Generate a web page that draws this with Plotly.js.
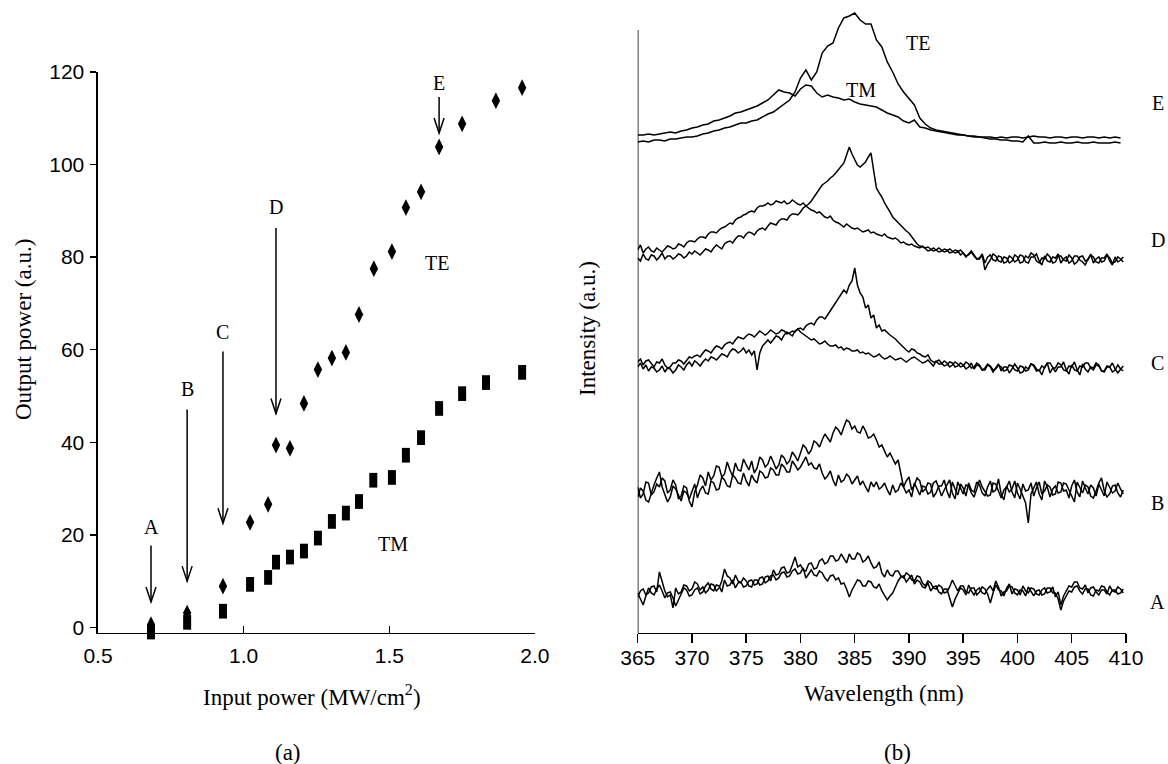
<!DOCTYPE html>
<html>
<head>
<meta charset="utf-8">
<script src="https://cdn.plot.ly/plotly-3.0.1.min.js"></script>
<style>html,body{margin:0;padding:0;background:#fff;}#chart{width:1168px;height:764px;}</style>
</head>
<body>
<div id="chart"></div>
<script>
// ---------- Panel (a): output power vs input power ----------
const inputTE = [0.682,0.806,0.929,1.022,1.084,1.111,1.159,1.207,1.255,1.303,1.351,1.396,1.447,1.509,1.557,1.609,1.671,1.750,1.866,1.956];
const outputTE = [0.6,3.1,8.9,22.7,26.6,39.4,38.7,48.4,55.7,58.2,59.4,67.6,77.5,81.2,90.7,94.1,103.8,108.8,113.8,116.6];
const inputTM = [0.682,0.806,0.929,1.022,1.084,1.111,1.159,1.207,1.255,1.303,1.351,1.396,1.445,1.509,1.557,1.609,1.671,1.750,1.832,1.956];
const outputTM = [-1.0,1.1,3.5,9.3,10.8,14.1,15.2,16.5,19.3,22.9,24.7,27.2,31.8,32.4,37.2,41.0,47.3,50.5,52.9,55.1];

// arrows marking the spectra of panel (b)
const arrowLabels = ['A','B','C','D','E'];
const arrowInput = [0.682,0.806,0.929,1.111,1.671];
const arrowTail = [17.7,47.1,59.6,86.3,114.6];
const arrowHead = [5.5,10.0,22.5,46.2,106.8];
const arrowLabelY = [21.8,51.6,63.9,90.9,117.6];

// ---------- Panel (b): spectra ----------
const wavelength = [
365,365.5,366,366.5,367,367.5,368,368.5,369,369.5,
370,370.5,371,371.5,372,372.5,373,373.5,374,374.5,
375,375.5,376,376.5,377,377.5,378,378.5,379,379.5,
380,380.5,381,381.5,382,382.5,383,383.5,384,384.5,
385,385.5,386,386.5,387,387.5,388,388.5,389,389.5,
390,390.5,391,391.5,392,392.5,393,393.5,394,394.5,
395,395.5,396,396.5,397,397.5,398,398.5,399,399.5,
400,400.5,401,401.5,402,402.5,403,403.5,404,404.5,
405,405.5,406,406.5,407,407.5,408,408.5,409,409.5];

const wavelengthFine = [
365,365.25,365.5,365.75,366,366.25,366.5,366.75,367,367.25,367.5,367.75,368,368.25,368.5,368.75,369,369.25,369.5,369.75,
370,370.25,370.5,370.75,371,371.25,371.5,371.75,372,372.25,372.5,372.75,373,373.25,373.5,373.75,374,374.25,374.5,374.75,
375,375.25,375.5,375.75,376,376.25,376.5,376.75,377,377.25,377.5,377.75,378,378.25,378.5,378.75,379,379.25,379.5,379.75,
380,380.25,380.5,380.75,381,381.25,381.5,381.75,382,382.25,382.5,382.75,383,383.25,383.5,383.75,384,384.25,384.5,384.75,
385,385.25,385.5,385.75,386,386.25,386.5,386.75,387,387.25,387.5,387.75,388,388.25,388.5,388.75,389,389.25,389.5,389.75,
390,390.25,390.5,390.75,391,391.25,391.5,391.75,392,392.25,392.5,392.75,393,393.25,393.5,393.75,394,394.25,394.5,394.75,
395,395.25,395.5,395.75,396,396.25,396.5,396.75,397,397.25,397.5,397.75,398,398.25,398.5,398.75,399,399.25,399.5,399.75,
400,400.25,400.5,400.75,401,401.25,401.5,401.75,402,402.25,402.5,402.75,403,403.25,403.5,403.75,404,404.25,404.5,404.75,
405,405.25,405.5,405.75,406,406.25,406.5,406.75,407,407.25,407.5,407.75,408,408.25,408.5,408.75,409,409.25,409.5,409.75];

// E: smoother, read on the 0.5 nm grid
const E_TE = [
491,492,491,493,493,492,494,494,495,496,
496,497,499,500,502,503,505,506,508,510,
510,512,513,516,519,521,525,529,533,541,
555,563,553,561,580,587,590,605,615,617,
620,613,609,609,593,586,571,561,549,541,
534,528,515,509,505,503,502,501,500,499,
498,497,496,496,495,494,494,493,493,492,
492,491,497,490,490,491,490,490,491,490,
490,491,490,490,491,490,490,490,491,490];
const E_TM = [
498,498,499,498,499,500,501,500,502,503,
505,506,508,509,512,513,515,517,520,521,
523,525,527,530,533,538,543,541,540,537,
544,548,547,540,536,538,536,535,533,534,
531,529,528,527,526,523,520,518,516,512,
510,513,506,505,503,502,501,500,499,498,
498,497,497,496,496,496,495,496,495,496,
496,495,496,497,496,496,495,496,496,495,
496,496,495,496,496,495,496,495,496,495];
// D, C, B, A: noisier, read on the 0.25 nm grid
const D_TE = [
375,372,379,374,373,378,377,373,376,380,374,377,377,374,376,379,378,375,377,381,
379,382,380,378,381,384,383,381,385,388,386,384,389,391,392,390,394,397,397,395,
399,401,400,398,402,404,405,403,407,410,409,408,412,414,414,413,417,419,419,418,
421,425,427,429,432,436,440,444,448,450,452,455,457,460,463,467,470,478,486,479,
473,468,466,469,471,476,480,462,445,440,436,430,426,421,416,413,410,407,405,402,
400,396,392,389,387,386,385,386,384,382,383,385,383,381,382,384,382,380,381,383,
380,377,378,381,377,374,374,378,363,369,373,379,377,372,371,376,375,370,372,378,
376,370,371,377,375,380,378,372,370,375,374,379,376,370,371,377,377,373,372,378,
375,369,371,376,377,372,373,379,370,374,376,371,372,378,375,370,371,376,374,371];
const D_TM = [
383,388,380,384,386,382,381,385,383,381,384,387,386,384,385,389,388,386,390,392,
392,391,394,396,396,395,399,401,401,400,403,405,406,408,410,409,413,415,416,418,
419,421,422,421,425,427,427,428,430,428,429,432,431,430,432,429,430,433,431,429,
428,430,427,425,423,422,420,421,418,416,415,417,413,411,410,408,406,409,407,405,
404,405,403,401,402,403,400,401,399,398,397,399,396,395,394,395,393,390,391,389,
388,389,387,386,385,387,384,382,383,385,383,381,382,384,383,380,381,383,382,378,
380,376,379,382,378,374,375,379,370,376,378,373,372,377,376,370,371,377,375,371,
373,378,377,371,370,376,376,379,372,368,377,372,371,376,375,379,370,374,376,370,
372,377,377,373,371,368,374,378,376,371,370,375,375,379,372,368,376,371,373,376];
const C_TE = [
266,270,264,268,262,266,265,261,263,267,261,265,264,260,263,268,266,263,268,271,
267,272,270,267,271,274,272,276,275,273,276,279,278,276,281,284,283,280,282,285,
280,283,278,282,263,280,287,290,293,290,294,297,296,293,298,301,299,297,302,304,
305,303,307,309,310,308,313,316,316,314,318,322,326,331,335,338,343,340,348,352,
365,348,340,336,325,328,315,318,305,308,302,303,300,298,296,294,291,288,285,283,
281,284,283,280,279,277,276,278,273,271,271,273,270,267,268,271,270,266,267,270,
268,264,266,270,264,268,267,263,263,268,266,261,265,269,262,266,266,260,264,269,
265,260,261,266,264,269,267,262,263,258,266,270,260,265,265,270,268,263,262,267,
266,271,263,258,269,264,261,266,265,270,268,262,262,267,266,261,263,268,264,262];
const C_TM = [
271,274,268,272,273,269,266,271,270,274,268,265,266,270,270,273,272,269,273,276,
275,277,278,276,280,283,282,280,284,287,286,284,288,290,291,289,293,296,295,294,
297,299,298,296,299,302,300,298,300,303,301,299,300,303,302,299,300,302,301,304,
301,299,297,295,293,294,291,289,290,292,289,287,287,288,285,286,283,285,284,282,
282,283,280,281,279,280,278,276,277,279,276,274,275,277,275,273,274,275,273,271,
273,275,276,274,272,270,271,273,270,267,272,269,269,272,270,266,268,271,269,266,
267,271,269,265,266,270,268,263,265,269,267,263,264,268,266,262,263,268,267,263,
262,267,266,262,263,269,268,264,262,267,265,270,270,265,261,266,266,271,263,259,
268,263,262,267,266,270,270,265,263,268,267,262,261,266,266,270,264,260,263,267];
const B_TE = [
146,135,139,151,150,138,141,149,146,155,152,140,143,153,148,134,137,147,145,132,
126,141,148,158,155,147,161,153,157,167,166,156,159,171,163,157,170,163,162,174,
168,163,172,160,165,176,173,166,169,177,171,164,168,178,175,169,172,181,177,172,
180,188,185,179,183,192,190,186,193,199,195,191,200,206,203,198,206,213,211,204,
207,201,200,207,202,195,196,199,193,186,188,181,176,180,175,169,173,160,146,152,
156,143,148,155,152,141,144,150,149,136,140,147,147,153,142,135,151,144,138,149,
145,137,150,143,141,151,148,140,137,146,152,141,143,154,139,133,147,141,144,152,
140,134,149,142,143,150,137,145,151,139,142,148,146,138,139,151,150,142,143,135,
147,153,141,136,152,145,139,148,145,137,149,143,137,151,146,140,142,150,144,139];
const B_TM = [
136,145,142,133,131,140,148,155,161,146,138,131,136,147,144,137,132,142,140,134,
141,149,135,143,147,140,139,152,150,143,144,156,153,147,146,158,155,150,149,160,
152,147,158,153,150,162,160,155,156,165,163,158,158,169,166,161,161,172,168,163,
166,171,176,168,170,165,164,169,160,154,157,162,153,147,158,151,153,159,156,149,
153,157,148,152,146,141,151,146,151,144,146,150,143,138,148,141,143,150,146,140,
143,136,150,144,138,147,146,139,141,150,152,145,137,143,148,153,140,134,151,145,
139,148,147,140,136,144,153,146,142,137,138,150,149,141,135,143,146,152,141,135,
150,144,137,130,110,139,145,151,139,133,152,146,136,144,147,140,141,150,149,143,
138,131,151,145,140,148,146,137,135,142,150,155,142,136,139,147,148,140,136,143];
const A_TE = [
36,42,44,38,40,46,47,41,61,50,42,36,38,25,45,39,41,48,47,42,
44,51,49,43,46,40,43,49,48,42,45,52,64,57,55,49,58,52,50,55,
52,47,46,53,53,48,49,56,57,52,63,58,59,65,66,60,61,68,76,66,
68,63,62,69,70,64,65,72,74,69,71,77,77,72,73,79,75,70,79,74,
74,80,78,71,73,77,70,65,66,71,60,56,63,58,57,62,62,57,55,60,
58,53,52,57,56,50,47,52,50,45,44,48,46,40,41,46,53,47,42,47,
47,41,40,45,45,38,41,46,44,39,30,40,48,43,42,37,45,49,39,44,
43,38,47,42,40,45,44,39,38,43,45,40,41,46,36,41,28,37,42,47,
46,51,51,45,44,48,40,45,46,41,38,43,43,39,47,42,41,46,44,40];
const A_TM = [
40,34,28,37,45,40,38,44,48,42,35,40,41,35,27,33,39,45,43,37,
38,43,45,39,41,47,50,44,42,48,47,41,53,47,48,53,45,50,51,46,
47,52,53,48,49,55,56,50,52,57,58,53,55,60,61,56,57,62,64,59,
60,65,55,59,63,58,57,62,60,55,52,57,58,53,55,49,50,44,36,43,
48,53,52,47,47,52,51,46,45,49,42,38,33,37,40,46,52,56,57,51,
54,58,49,53,51,46,45,50,42,46,47,41,39,44,44,35,26,34,40,45,
43,38,48,42,38,43,45,40,39,44,47,42,52,46,37,41,42,47,46,40,
38,43,42,37,46,41,37,42,43,38,39,45,45,40,40,34,23,32,37,42,
41,46,47,42,39,44,44,38,37,43,42,47,46,41,38,43,43,39,40,44];

const spectraCoarse = [E_TE, E_TM];
const spectraFine = [D_TE, D_TM, C_TE, C_TM, B_TE, B_TM, A_TE, A_TM];
const spectrumLabels = ['E','D','C','B','A'];

// ---------- styling ----------
const SERIF = 'Liberation Serif, Times New Roman, serif';
const SANS = 'Liberation Sans, Arial, sans-serif';
const INK = '#000';

const traces = [
  {x: inputTE, y: outputTE, xaxis: 'x', yaxis: 'y', mode: 'markers', type: 'scatter', cliponaxis: false,
   marker: {symbol: 'diamond-tall', size: 12, color: INK, line: {width: 0}}},
  {x: inputTM, y: outputTM, xaxis: 'x', yaxis: 'y', mode: 'markers', type: 'scatter', cliponaxis: false,
   marker: {symbol: 'line-ns', size: 10.5, color: INK, line: {width: 8, color: INK}}}
];
spectraCoarse.forEach(s => traces.push({x: wavelength, y: s, xaxis: 'x2', yaxis: 'y2', mode: 'lines', type: 'scatter',
  cliponaxis: false, line: {color: INK, width: 1.5}}));
spectraFine.forEach(s => traces.push({x: wavelengthFine, y: s, xaxis: 'x2', yaxis: 'y2', mode: 'lines', type: 'scatter',
  cliponaxis: false, line: {color: INK, width: 1.5}}));

const annotations = [];
const shapes = [];
function label(x, y, xref, yref, text, size, angle) {
  annotations.push({x: x, y: y, xref: xref, yref: yref, text: text, showarrow: false,
    xanchor: 'center', yanchor: 'middle', textangle: angle || 0,
    font: {family: SERIF, size: size, color: INK}});
}
arrowLabels.forEach((lab, i) => {
  label(arrowInput[i], arrowLabelY[i], 'x', 'y', lab, 20);
  shapes.push({type: 'line', xref: 'x', yref: 'y', x0: arrowInput[i], x1: arrowInput[i], y0: arrowTail[i], y1: arrowHead[i],
    line: {color: INK, width: 1.5}});
  shapes.push({type: 'path', xref: 'x', yref: 'y', xsizemode: 'pixel', ysizemode: 'pixel',
    xanchor: arrowInput[i], yanchor: arrowHead[i], path: 'M-5,15L0,0L5,15', line: {color: INK, width: 1.5}});
});
label(1.664, 78.8, 'x', 'y', 'TE', 20);
label(1.513, 18.0, 'x', 'y', 'TM', 20);
label(390.8, 590, 'x2', 'y2', 'TE', 20);
label(385.6, 543, 'x2', 'y2', 'TM', 20);
const letterY = [0.8652, 0.6859, 0.5249, 0.3416, 0.2120];
spectrumLabels.forEach((lab, i) => label(0.9914, letterY[i], 'paper', 'paper', lab, 20));
// axis titles and panel captions
label(0.0206, 0.5681, 'paper', 'paper', 'Output power (a.u.)', 23, -90);
label(0.2671, 0.0903, 'paper', 'paper', 'Input power (MW/cm<sup>2</sup>)', 23);
label(0.2466, 0.0157, 'paper', 'paper', '(a)', 23);
label(0.5034, 0.5707, 'paper', 'paper', 'Intensity (a.u.)', 23, -90);
label(0.7568, 0.0929, 'paper', 'paper', 'Wavelength (nm)', 23);
label(0.7688, 0.0144, 'paper', 'paper', '(b)', 23);

// vertical axis line of panel (b)
shapes.push({type: 'line', xref: 'x2', yref: 'y2', x0: 365, x1: 365, y0: 0, y1: 603, line: {color: INK, width: 1.5}});

const layout = {
  width: 1168, height: 764,
  margin: {l: 0, r: 0, t: 0, b: 0},
  paper_bgcolor: '#fff', plot_bgcolor: '#fff',
  showlegend: false, hovermode: false,
  font: {family: SANS, color: INK},
  xaxis: {domain: [0.0839, 0.4580], range: [0.5, 2.0], dtick: 0.5, tick0: 0.5, tickformat: '.1f',
    ticks: 'inside', ticklen: 7, tickwidth: 1.5, tickcolor: INK, showline: true, linecolor: INK, linewidth: 1.5,
    showgrid: false, zeroline: false, anchor: 'y', tickfont: {family: SANS, size: 21, color: INK}, ticklabelstandoff: 3},
  yaxis: {domain: [0.1715, 0.9058], range: [-1.2, 120], dtick: 20, tick0: 0,
    ticks: 'outside', ticklen: 6, tickwidth: 1.5, tickcolor: INK, showline: true, linecolor: INK, linewidth: 1.5,
    showgrid: false, zeroline: false, anchor: 'x', tickfont: {family: SANS, size: 21, color: INK}, ticklabelstandoff: 2},
  xaxis2: {domain: [0.5460, 0.9640], range: [365, 410], dtick: 5, tick0: 365,
    ticks: 'outside', ticklen: 9, tickwidth: 1.5, tickcolor: INK, showline: true, linecolor: INK, linewidth: 1.5,
    showgrid: false, zeroline: false, anchor: 'y2', tickfont: {family: SANS, size: 21, color: INK}, ticklabelstandoff: -4},
  yaxis2: {domain: [0.1715, 0.9961], range: [0, 630], showticklabels: false, ticks: '', showline: false,
    showgrid: false, zeroline: false, anchor: 'x2'},
  annotations: annotations,
  shapes: shapes
};

Plotly.newPlot('chart', traces, layout, {displayModeBar: false, staticPlot: true});
</script>
</body>
</html>
